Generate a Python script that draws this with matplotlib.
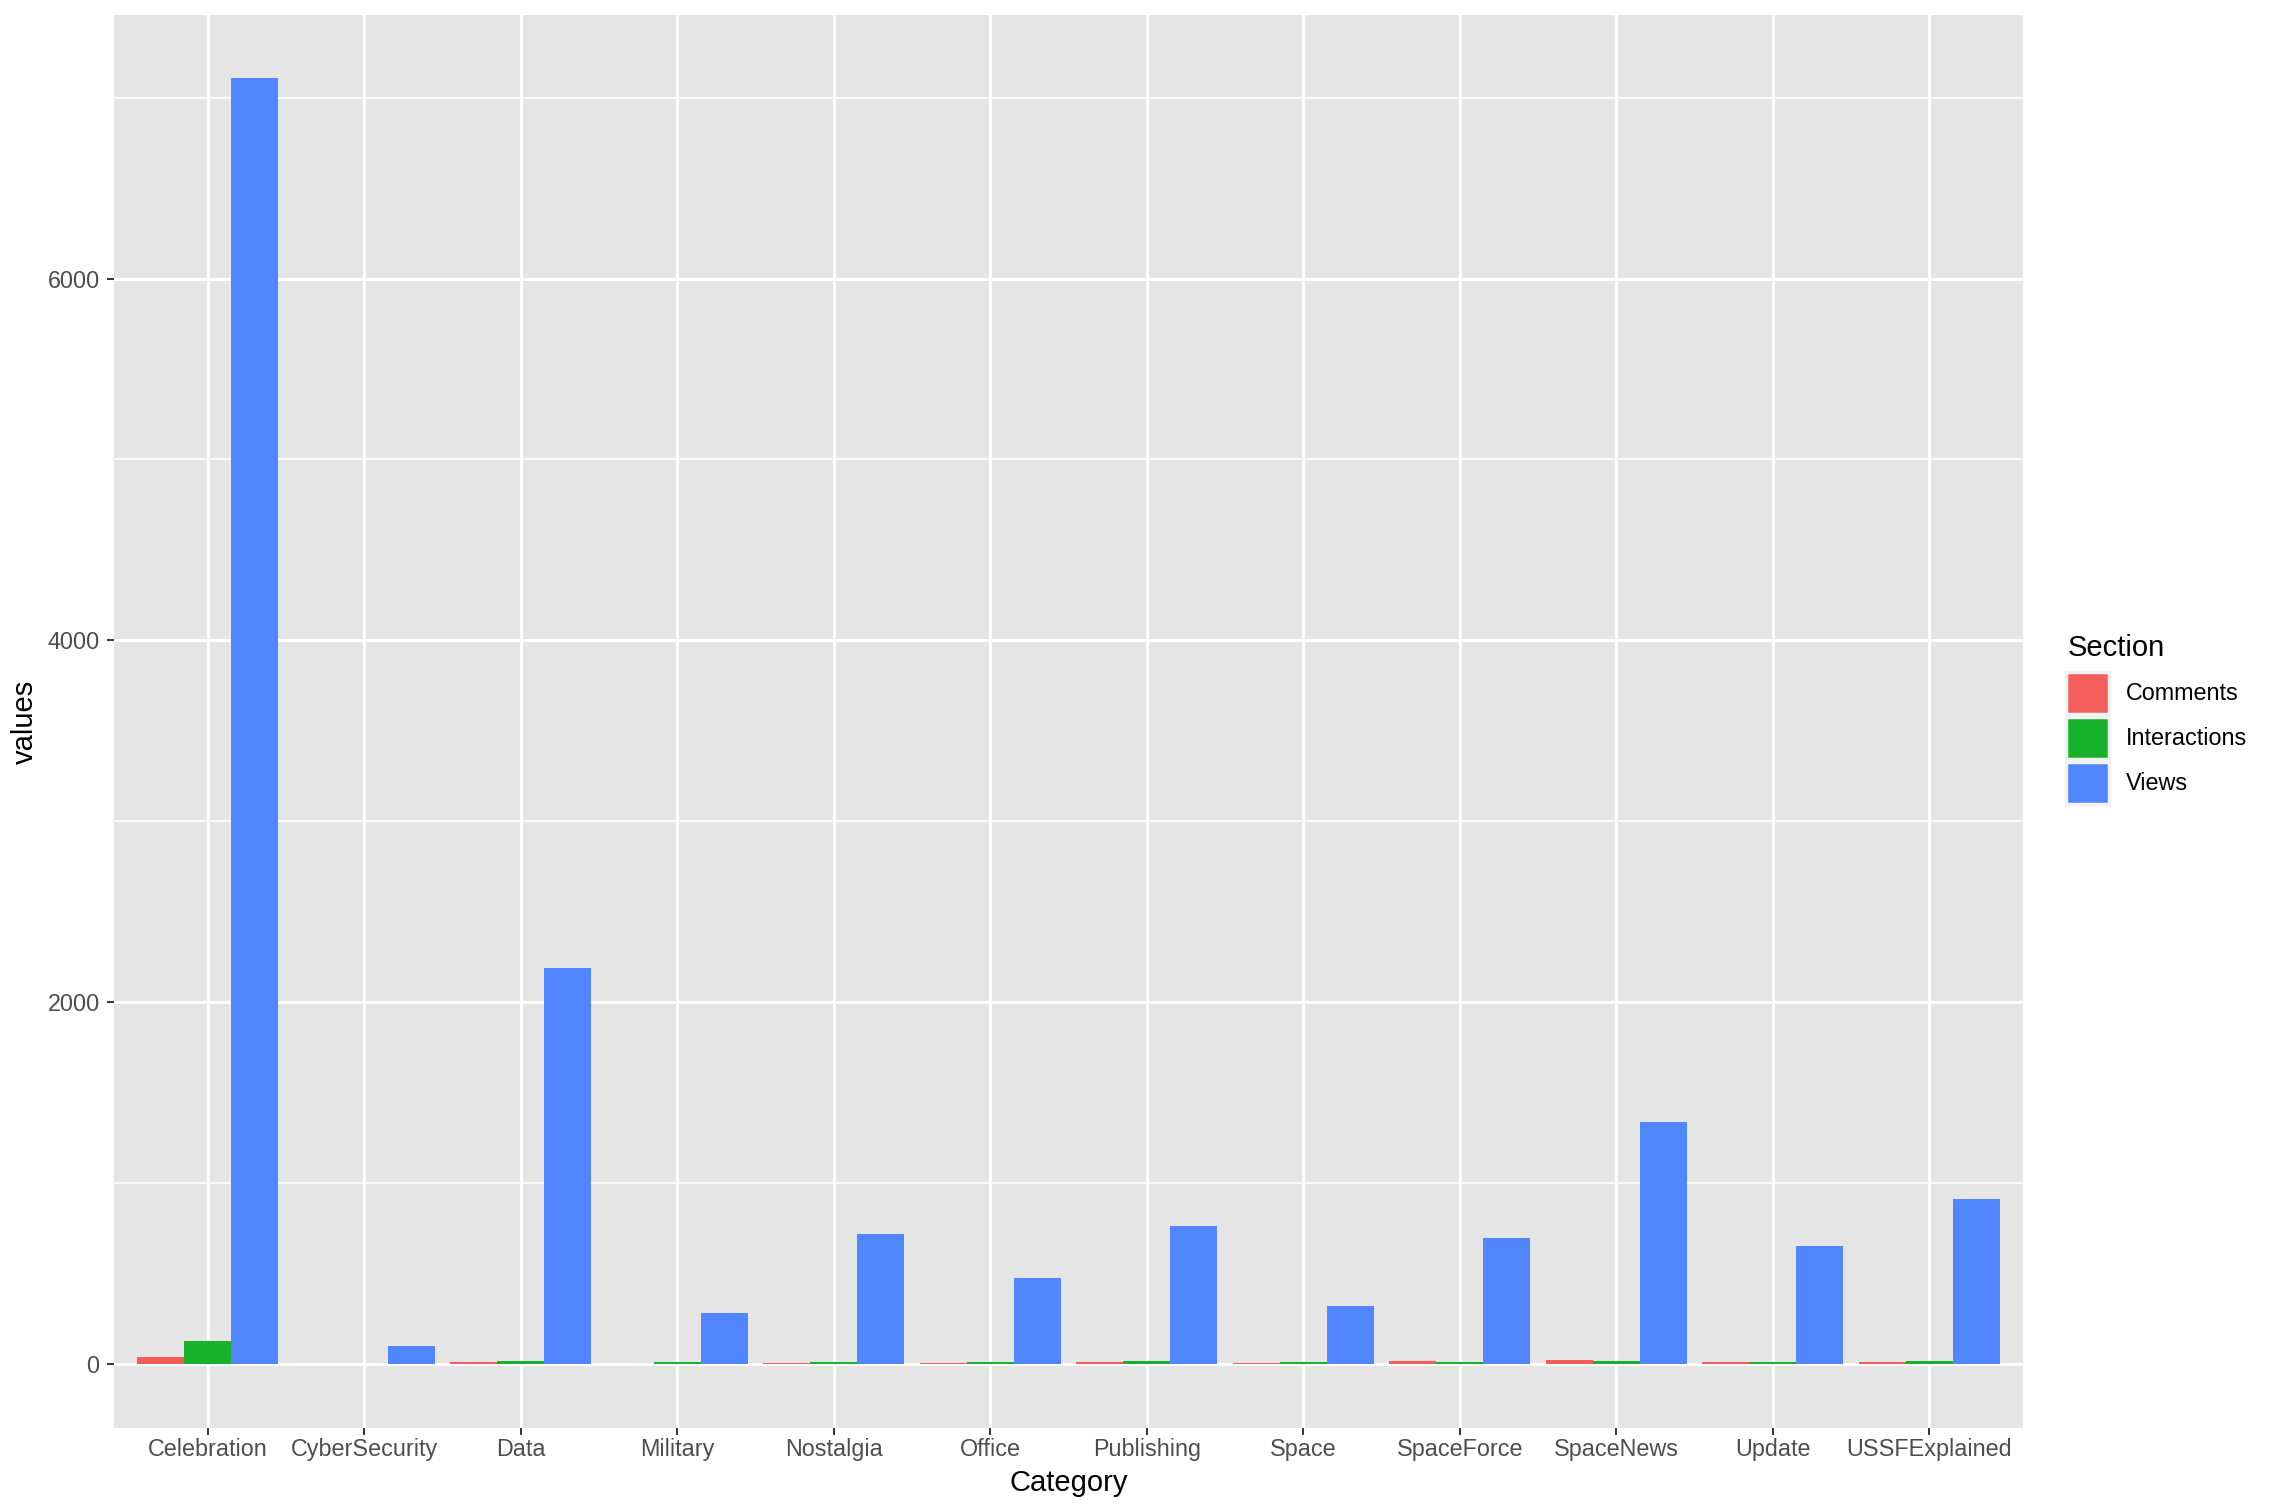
import matplotlib.pyplot as plt
import numpy as np
from matplotlib.patches import Patch

# Data
categories = ["Celebration", "CyberSecurity", "Data", "Military", "Nostalgia", "Office",
              "Publishing", "Space", "SpaceForce", "SpaceNews", "Update", "USSFExplained"]
comments = [37, 0, 9, 0, 4, 4, 9, 4, 15, 21, 9, 9]
interactions = [126, 0, 15, 9, 9, 9, 15, 9, 9, 15, 9, 15]
views = [7110, 98, 2185, 278, 717, 476, 759, 317, 694, 1337, 653, 910]

sections = ["Comments", "Interactions", "Views"]
colors = ["#F35E5A", "#17B12B", "#5086FF"]

plt.rcParams["font.family"] = ["Liberation Sans", "DejaVu Sans"]

W, H = 2278, 1512
fig = plt.figure(figsize=(W / 100, H / 100), dpi=100)
ax = fig.add_axes([114 / W, 1 - 1428 / H, (2023 - 114) / W, (1428 - 15) / H])

x = np.arange(len(categories))
w = 0.3
for i, (vals, col) in enumerate(zip([comments, interactions, views], colors)):
    ax.bar(x + (i - 1) * w, vals, width=w, color=col, zorder=3)

ax.set_facecolor("#E5E5E5")
ax.set_xlim(-0.6, len(categories) - 0.4)
ax.set_ylim(-356, 7457)
ax.set_yticks([0, 2000, 4000, 6000])
ax.set_yticks([1000, 3000, 5000, 7000], minor=True)
ax.set_xticks(x)
ax.set_xticklabels(categories)
ax.grid(which="major", color="white", linewidth=2.2, zorder=0)
ax.grid(which="minor", axis="y", color="white", linewidth=1.2, zorder=0)
ax.set_axisbelow(True)
for s in ax.spines.values():
    s.set_visible(False)
ax.tick_params(which="major", length=4.8, width=1.4, color="#333333",
               labelsize=16.8, labelcolor="#4D4D4D")
ax.tick_params(axis="y", pad=5.5)
ax.tick_params(axis="x", pad=2.5)
ax.tick_params(which="minor", length=0)

ax.set_xlabel("Category", fontsize=21, color="black", labelpad=5.5)
ax.set_ylabel("values", fontsize=21, color="black", labelpad=6)

# legend: title placed separately, keys ~42 px squares with a thin light border
fig.text(2068 / W, 1 - 656 / H, "Section", fontsize=21, ha="left", va="baseline")
handles = [Patch(facecolor=c, edgecolor="#F2F2F2", linewidth=2.5) for c in colors]
leg = fig.legend(handles, sections, loc="upper left",
                 bbox_to_anchor=(2066 / W, 1 - 672 / H),
                 frameon=False, fontsize=16.8,
                 handlelength=1.85, handleheight=2.4, labelspacing=0.12,
                 handletextpad=0.7, borderaxespad=0, borderpad=0)

fig.savefig("out.png", dpi=100)
